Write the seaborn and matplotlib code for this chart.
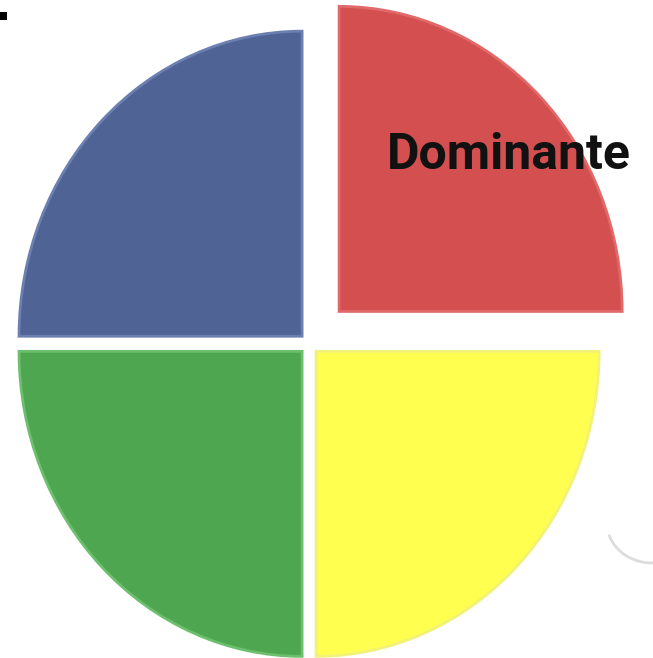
import matplotlib
matplotlib.use("Agg")
import matplotlib.pyplot as plt
import seaborn as sns
from matplotlib.patches import Arc, Rectangle

sns.set_theme(style="white")

categories = ["Dominante", "Blue", "Green", "Yellow"]
values = [25, 25, 25, 25]
colors = ["#d44f4f", "#4f6395", "#4fa650", "#ffff50"]
edge_colors = ["#e06a6a", "#6b7fb0", "#6cbf6c", "#f2f27a"]
explode = [0.15, 0.035, 0.035, 0.035]
labels_shown = ["Dominante", "", "", ""]

fig = plt.figure(figsize=(6.53, 6.58), dpi=100)
ax = fig.add_axes([0, 0, 1, 1])

wedges, _ = ax.pie(values, colors=colors, explode=explode, startangle=0,
                   counterclock=True,
                   wedgeprops=dict(linewidth=2.0))
for w, ec in zip(wedges, edge_colors):
    w.set_edgecolor(ec)

ax.set_aspect("auto")
ax.set_xlim(-1.092, 1.215)
ax.set_ylim(-1.030, 1.127)
ax.axis("off")

ax.text(0.705, 0.617, labels_shown[0], ha="center", va="center",
        fontsize=36, fontweight="bold", color="#111111",
        family=["Roboto", "DejaVu Sans"])

# small decorations
fig.patches.append(Rectangle((0, 638 / 658), 7 / 653, 8 / 658, transform=fig.transFigure,
                             facecolor="black", edgecolor="none"))
arc = Arc((652 / 653, 135 / 658), 90 / 653, 80 / 658, theta1=195, theta2=275,
          transform=fig.transFigure, color="#dddddd", linewidth=2)
fig.patches.append(arc)

fig.savefig("out.png", dpi=100)
